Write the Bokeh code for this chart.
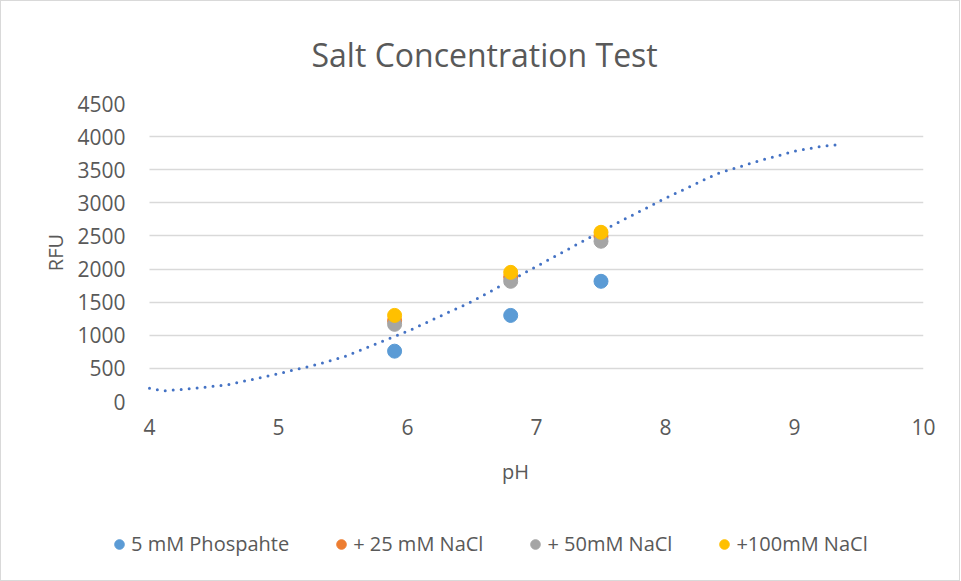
from bokeh.plotting import figure
from bokeh.layouts import column
from bokeh.models import Legend, LegendItem, Title, Range1d, FixedTicker
from bokeh.embed import file_html
from bokeh.resources import INLINE

# Data
ph_points = [5.9, 6.8, 7.5]
rfu_phosphate = [760, 1300, 1815]
rfu_25mM = [1220, 1880, 2490]
rfu_50mM = [1165, 1815, 2420]
rfu_100mM = [1300, 1950, 2555]

trend_ph = [4.0, 4.1, 4.3, 4.6, 5.0, 5.3, 5.5, 6.0, 6.5, 7.0, 7.5, 8.0, 8.4, 8.7, 9.0, 9.2, 9.35]
trend_rfu = [200, 160, 190, 250, 420, 560, 670, 1060, 1510, 2040, 2570, 3070, 3440, 3620, 3780, 3850, 3880]

x_ticks = [4, 5, 6, 7, 8, 9, 10]
y_ticks = [0, 500, 1000, 1500, 2000, 2500, 3000, 3500, 4000, 4500]

series = [
    ("5 mM Phospahte", rfu_phosphate, "#5B9BD5"),
    ("+ 25 mM NaCl", rfu_25mM, "#ED7D31"),
    ("+ 50mM NaCl", rfu_50mM, "#A5A5A5"),
    ("+100mM NaCl", rfu_100mM, "#FFC000"),
]

FONT = "Open Sans"
TXT = "#595959"

# the frame starts 42px left of pH 4 so the legend strip (aligned to it) can start there
x_start = 4 - 42 * 6 / 774

p = figure(width=958, height=510, output_backend="svg", toolbar_location=None,
           x_range=Range1d(x_start, 10), y_range=Range1d(0, 4500),
           min_border_left=106, min_border_right=36, min_border_top=102, min_border_bottom=110)
p.outline_line_color = None
p.xgrid.grid_line_color = None
p.ygrid.grid_line_color = "#d9d9d9"
p.ygrid.grid_line_width = 1.5
if "cross_bounds" in p.ygrid[0].properties():
    p.ygrid.cross_bounds = (4, 10)

t = Title(text="Salt Concentration Test", align="left", offset=204,
          text_font=FONT, text_font_size="32px", text_color=TXT, text_font_style="normal",
          vertical_align="middle", standoff=54)
p.add_layout(t, "above")

p.xaxis.ticker = FixedTicker(ticks=x_ticks)
p.yaxis.ticker = FixedTicker(ticks=y_ticks)
for ax in (p.xaxis[0], p.yaxis[0]):
    ax.axis_line_color = None
    ax.major_tick_line_color = None
    ax.minor_tick_line_color = None
    ax.major_label_text_font = FONT
    ax.major_label_text_font_size = "21px"
    ax.major_label_text_color = TXT
    ax.axis_label_text_font = FONT
    ax.axis_label_text_font_size = "20px"
    ax.axis_label_text_font_style = "normal"
    ax.axis_label_text_color = TXT
p.xaxis.axis_label = "pH"
p.yaxis.axis_label = "RFU"
p.xaxis.major_label_standoff = 11
p.yaxis.major_label_standoff = -24
p.xaxis.axis_label_standoff = 20
p.yaxis.axis_label_standoff = 5

# trendline
p.line(trend_ph, trend_rfu, line_color="#4472C4", line_width=3, line_dash="0 8", line_cap="round")

for name, vals, col in series:
    p.scatter(ph_points, vals, size=14, fill_color=col, line_color=col)

# legend strip below the chart (its renderers use the same data, out of its view range)
q = figure(width=958, height=69, output_backend="svg", toolbar_location=None,
           x_range=Range1d(0, 1), y_range=Range1d(0, 1),
           x_axis_type=None, y_axis_type=None,
           min_border_left=106, min_border_right=36, min_border_top=0, min_border_bottom=0)
q.outline_line_color = None
q.grid.visible = False
items = []
for name, vals, col in series:
    r = q.scatter(ph_points, vals, size=14, fill_color=col, line_color=col)
    items.append(LegendItem(label=name, renderers=[r]))

lg = Legend(items=items, location=(0, 23), orientation="horizontal",
            padding=0, margin=0, spacing=40,
            glyph_width=24, glyph_height=24, label_standoff=0,
            label_text_font=FONT, label_text_font_size="20px", label_text_color=TXT,
            border_line_color=None, background_fill_alpha=0)
q.add_layout(lg, "center")

layout = column(p, q, spacing=0, styles={"border": "1px solid #d9d9d9"})

open("out.html", "w").write(file_html(layout, INLINE))
